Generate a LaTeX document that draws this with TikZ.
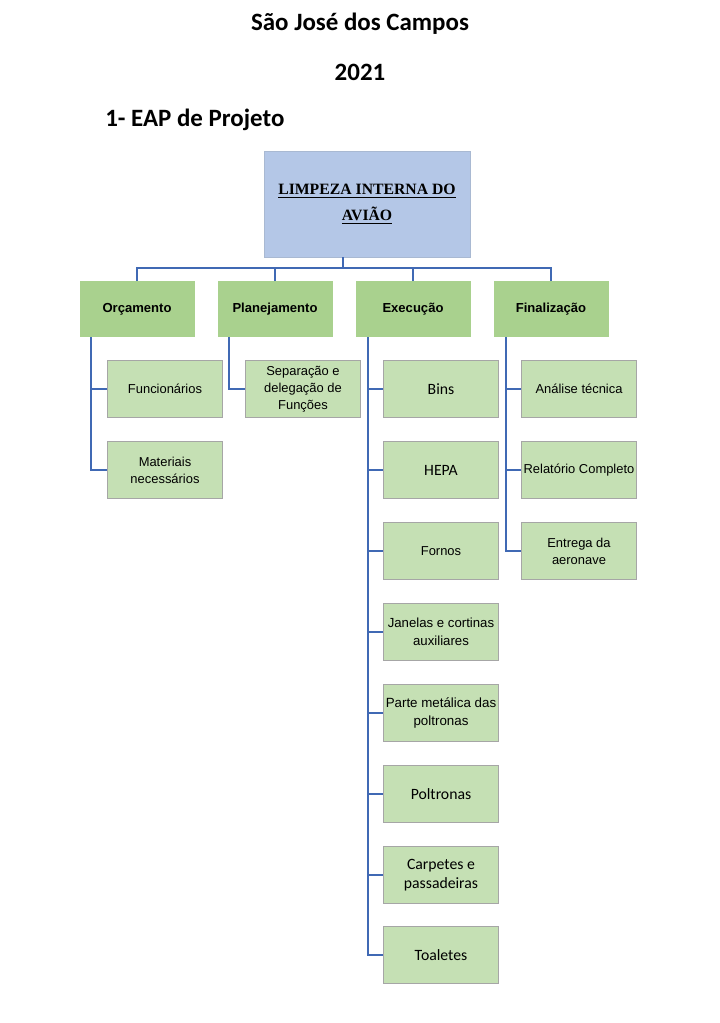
\documentclass[tikz,border=0pt]{standalone}
\usepackage{fontspec}
\newfontfamily\arialf{Liberation Sans}
\newfontfamily\calibf{Carlito}
\newfontfamily\cambrf{Liberation Serif}
\definecolor{rootblue}{HTML}{B4C7E7}
\definecolor{phasegreen}{HTML}{A9D18E}
\definecolor{taskgreen}{HTML}{C5E0B4}
\definecolor{boxgray}{HTML}{A6A6A6}
\definecolor{linkblue}{HTML}{4069B4}
\tikzset{
  rootbox/.style={fill=rootblue, draw=rootblue!80!gray, line width=0.4pt, minimum width=154.5pt, minimum height=79.5pt, align=center, inner sep=0pt},
  phasebox/.style={fill=phasegreen, minimum width=86.25pt, minimum height=41.25pt, align=center, inner sep=0pt, font=\arialf\bfseries\fontsize{9.8}{12}\selectfont},
  taskbox/.style={fill=taskgreen, draw=boxgray, line width=0.6pt, minimum width=86.25pt, minimum height=42.75pt, align=center, inner sep=0pt, font=\arialf\fontsize{9.7}{12.6}\selectfont},
  calibtext/.style={font=\calibf\fontsize{11.8}{14.3}\selectfont},
  link/.style={draw=linkblue, line width=1.5pt}
}
\begin{document}
\begin{tikzpicture}[x=0.75pt,y=0.75pt,yscale=-1,xscale=1]
\useasboundingbox (0,0) rectangle (720,1023);

% Text Node
\node[inner sep=0pt, font=\calibf\bfseries\fontsize{18.7}{22}\selectfont] (titulo) at (360,24) {São José dos Campos};
% Text Node
\node[inner sep=0pt, font=\calibf\bfseries\fontsize{18.7}{22}\selectfont] (ano) at (360,72) {2021};
% Text Node
\node[inner sep=0pt, anchor=west, font=\calibf\bfseries\fontsize{18.7}{22}\selectfont] (secao) at (105,120) {1- EAP de Projeto};

%Shape: Rectangle [root]
\node[rootbox, font=\cambrf\bfseries\fontsize{11.8}{19.5}\selectfont] (raiz) at (367,204) {\underline{LIMPEZA INTERNA DO}\\\underline{AVIÃO}};

%Shape: Rectangle [phases]
\node[phasebox] (orc) at (137,309) {Orçamento};
\node[phasebox] (plan) at (275,309) {Planejamento};
\node[phasebox] (exe) at (413,309) {Execução};
\node[phasebox] (fin) at (551,309) {Finalização};

%Straight Lines [root to phases]
\coordinate (barra) at (343,268);
\draw[link] (raiz.south -| barra) -- (barra);
\draw[link] (orc.north) |- (barra) -| (fin.north);
\draw[link] (plan.north) -- (plan.north |- barra);
\draw[link] (exe.north) -- (exe.north |- barra);

%Shape: Rectangle [Orçamento]
\node[taskbox] (func) at (165,389) {Funcionários};
\node[taskbox] (mat) at (165,470) {Materiais\\necessários};
%Shape: Rectangle [Planejamento]
\node[taskbox] (sep) at (303,389) {Separação e\\delegação de\\Funções};
%Shape: Rectangle [Execução]
\node[taskbox, calibtext] (bins) at (441,389) {Bins};
\node[taskbox, calibtext] (hepa) at (441,470) {HEPA};
\node[taskbox] (fornos) at (441,551) {Fornos};
\node[taskbox, font=\arialf\fontsize{9.9}{13.6}\selectfont] (janelas) at (441,632) {Janelas e cortinas\\auxiliares};
\node[taskbox, font=\arialf\fontsize{10}{14.2}\selectfont] (parte) at (441,713) {Parte metálica das\\poltronas};
\node[taskbox, calibtext] (poltronas) at (441,794) {Poltronas};
\node[taskbox, calibtext] (carpetes) at (441,875) {Carpetes e\\passadeiras};
\node[taskbox, calibtext] (toaletes) at (441,955) {Toaletes};
%Shape: Rectangle [Finalização]
\node[taskbox] (analise) at (579,389) {Análise técnica};
\node[taskbox] (relatorio) at (579,470) {Relatório Completo};
\node[taskbox] (entrega) at (579,551) {Entrega da\\aeronave};

%Straight Lines [phases to tasks]
\coordinate (orcL) at (91,337);
\coordinate (planL) at (229,337);
\coordinate (exeL) at (368,337);
\coordinate (finL) at (506,337);
\foreach \t in {func,mat} \draw[link] (orcL) |- (\t.west);
\draw[link] (planL) |- (sep.west);
\foreach \t in {bins,hepa,fornos,janelas,parte,poltronas,carpetes,toaletes} \draw[link] (exeL) |- (\t.west);
\foreach \t in {analise,relatorio,entrega} \draw[link] (finL) |- (\t.west);

\end{tikzpicture}
\end{document}
